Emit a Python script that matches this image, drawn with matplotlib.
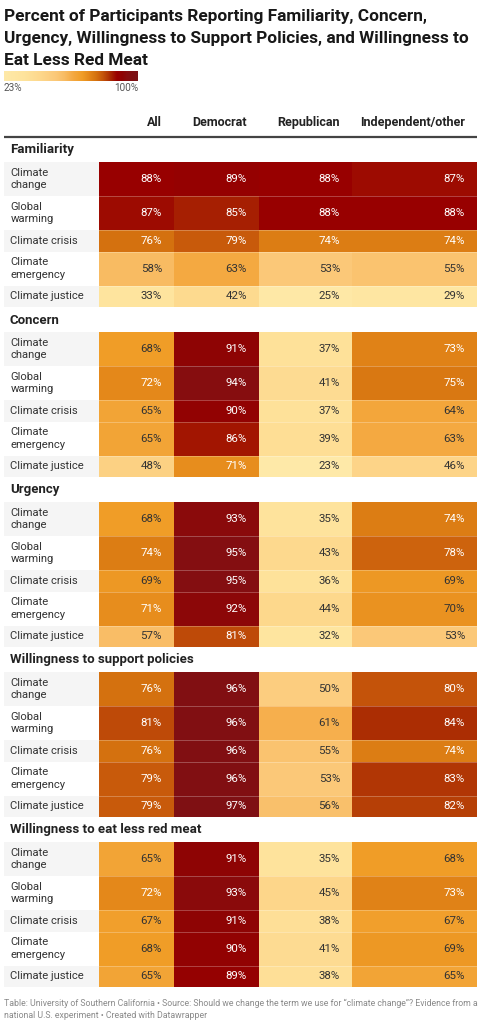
import matplotlib
matplotlib.use("Agg")
import matplotlib.pyplot as plt
import numpy as np
from matplotlib.colors import LinearSegmentedColormap, Normalize
from matplotlib.patches import Rectangle

# ---------------- data ----------------
title_lines = [
    "Percent of Participants Reporting Familiarity, Concern,",
    "Urgency, Willingness to Support Policies, and Willingness to",
    "Eat Less Red Meat",
]
columns = ["All", "Democrat", "Republican", "Independent/other"]
terms = ["Climate\nchange", "Global\nwarming", "Climate crisis", "Climate\nemergency", "Climate justice"]
sections = ["Familiarity", "Concern", "Urgency",
            "Willingness to support policies", "Willingness to eat less red meat"]

familiarity = [[88, 89, 88, 87],
               [87, 85, 88, 88],
               [76, 79, 74, 74],
               [58, 63, 53, 55],
               [33, 42, 25, 29]]
concern = [[68, 91, 37, 73],
           [72, 94, 41, 75],
           [65, 90, 37, 64],
           [65, 86, 39, 63],
           [48, 71, 23, 46]]
urgency = [[68, 93, 35, 74],
           [74, 95, 43, 78],
           [69, 95, 36, 69],
           [71, 92, 44, 70],
           [57, 81, 32, 53]]
support_policies = [[76, 96, 50, 80],
                    [81, 96, 61, 84],
                    [76, 96, 55, 74],
                    [79, 96, 53, 83],
                    [79, 97, 56, 82]]
eat_less_meat = [[65, 91, 35, 68],
                 [72, 93, 45, 73],
                 [67, 91, 38, 67],
                 [68, 90, 41, 69],
                 [65, 89, 38, 65]]
section_values = [familiarity, concern, urgency, support_policies, eat_less_meat]

scale_min, scale_max = 23, 100
footer_lines = [
    "Table: University of Southern California \u2022 Source: Should we change the term we use for \u201cclimate change\u201d? Evidence from a",
    "national U.S. experiment \u2022 Created with Datawrapper",
]

# ---------------- colour scale ----------------
stops = [(23, "#fee9a8"), (35, "#fee39c"), (45, "#fdd68a"), (53, "#fbc878"),
         (58, "#f8bb62"), (63, "#f4a840"), (68, "#f09d27"), (72, "#e4881a"),
         (76, "#d5720f"), (80, "#c4540a"), (84, "#ab2d03"), (88, "#990000"),
         (91, "#8f0303"), (94, "#870d0f"), (97, "#7f1013"), (100, "#7a1217")]
cmap = LinearSegmentedColormap.from_list(
    "dw", [((v - scale_min) / (scale_max - scale_min), c) for v, c in stops])
norm = Normalize(scale_min, scale_max)

# ---------------- figure ----------------
W, H = 483, 1024
plt.rcParams['font.family'] = ['Roboto', 'DejaVu Sans']
fig = plt.figure(figsize=(W / 100, H / 100), dpi=100)
ax = fig.add_axes([0, 0, 1, 1])
ax.set_xlim(0, W)
ax.set_ylim(H, 0)
ax.axis("off")

def px(s):
    return s * 0.72

# title
for i, line in enumerate(title_lines):
    ax.text(4, 20.7 + i * 22.3, line, fontsize=px(17.25), fontweight="bold",
            color="#181818", va="baseline", ha="left")

# colour legend
grad = np.linspace(0, 1, 256).reshape(1, -1)
ax.imshow(grad, cmap=cmap, extent=[4, 138, 81, 71], aspect="auto", zorder=2)
ax.text(4, 88, f"{scale_min}%", fontsize=px(10), color="#555555", va="center", ha="left")
ax.text(138, 88, f"{scale_max}%", fontsize=px(10), color="#555555", va="center", ha="right")

# table geometry
col_edges = [4, 99, 174, 259, 352, 477]
pad_right = 12
row_heights = [34 if "\n" in t else 21.5 for t in terms]

# header
for j, c in enumerate(columns):
    ax.text(col_edges[j + 2] - pad_right, 126, c, fontsize=px(12.5), fontweight="bold",
            color="#222222", ha="right", va="baseline")
ax.plot([4, 477], [136.5, 136.5], color="#444444", lw=1.6, solid_capstyle="butt")

y = 137
for s, name in enumerate(sections):
    ax.text(10, y + 13, name, fontsize=px(13.2), fontweight="bold", color="#222222",
            ha="left", va="center")
    y += 25
    vals = section_values[s]
    for r, term in enumerate(terms):
        h = row_heights[r]
        bg = "#f5f5f5" if r % 2 == 0 else "#ffffff"
        ax.add_patch(Rectangle((col_edges[0], y), col_edges[1] - col_edges[0], h,
                               facecolor=bg, edgecolor="none"))
        ax.text(10.5, y + h / 2, term, fontsize=px(11.3), color="#333333",
                ha="left", va="center", linespacing=1.3)
        for j, v in enumerate(vals[r]):
            x0, x1 = col_edges[j + 1], col_edges[j + 2]
            ax.add_patch(Rectangle((x0, y), x1 - x0, h, facecolor=cmap(norm(v)),
                                   edgecolor="none"))
            tc = "#ffffff" if v >= 71 else "#333333"
            ax.text(x1 - pad_right, y + h / 2, f"{v}%", fontsize=px(11.5), color=tc,
                    ha="right", va="center")
        if r > 0:
            ax.plot([col_edges[1], col_edges[-1]], [y, y], color="white", lw=0.6, alpha=0.3)
        y += h

# footer
for i, line in enumerate(footer_lines):
    ax.text(4, 1003 + i * 12.5, line, fontsize=px(8.8), color="#8a8a8a",
            ha="left", va="center")

fig.savefig("out.png", dpi=100)
